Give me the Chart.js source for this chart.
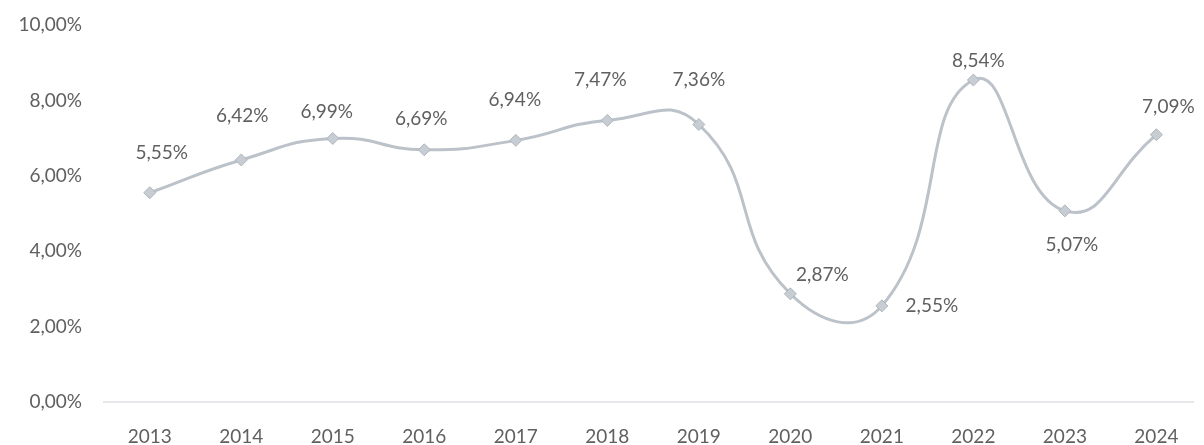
<!DOCTYPE html>
<html>
<head>
<meta charset="utf-8">
<script src="https://cdn.jsdelivr.net/npm/chart.js@4/dist/chart.umd.min.js"></script>
<style>
    html, body { margin: 0; padding: 0; background: #fff; }
    #wrap { width: 1204px; height: 445px; }
</style>
</head>
<body>
<div id="wrap"><canvas id="growth"></canvas></div>
<script>
const years = [2013, 2014, 2015, 2016, 2017, 2018, 2019, 2020, 2021, 2022, 2023, 2024];
const rates = [5.55, 6.42, 6.99, 6.69, 6.94, 7.47, 7.36, 2.87, 2.55, 8.54, 5.07, 7.09];
const yTicks = [0, 2, 4, 6, 8, 10];

// where each value label sits relative to its marker (dx, dy in px)
const labelOffsets = [
    [12, -40], [1, -44], [-6, -27], [-3, -31], [-1, -40], [-7, -41],
    [0, -45], [32, -19], [50, 0], [5, -19], [7, 34], [12, -28]
];

function pct(v) {
    return v.toFixed(2).replace('.', ',') + '%';
}

const valueLabels = {
    id: 'valueLabels',
    afterDatasetsDraw(chart) {
        const ctx = chart.ctx;
        const meta = chart.getDatasetMeta(0);
        ctx.save();
        ctx.font = '19px Lato';
        ctx.fillStyle = '#606060';
        ctx.textAlign = 'center';
        ctx.textBaseline = 'middle';
        meta.data.forEach((pt, i) => {
            const off = labelOffsets[i];
            ctx.fillText(pct(rates[i]), pt.x + off[0], pt.y + off[1]);
        });
        ctx.restore();
    }
};

const ctx = document.getElementById('growth').getContext('2d');
new Chart(ctx, {
    type: 'line',
    data: {
        datasets: [{
            data: years.map((y, i) => ({ x: y, y: rates[i] })),
            borderColor: '#bcc2c9',
            borderWidth: 3,
            tension: 0.5,
            pointStyle: 'rectRot',
            pointRadius: 6,
            pointBackgroundColor: '#c8cdd3',
            pointBorderColor: '#aeb5bd',
            pointBorderWidth: 1,
            clip: false
        }]
    },
    options: {
        responsive: true,
        maintainAspectRatio: false,
        animation: false,
        layout: { padding: { top: 25, right: 11, bottom: 0, left: 0 } },
        plugins: {
            legend: { display: false },
            tooltip: { enabled: false }
        },
        scales: {
            x: {
                type: 'linear',
                min: 2012.5,
                max: 2024.4,
                afterFit(scale) { scale.height = 43; },
                afterBuildTicks(scale) {
                    scale.ticks = years.map(v => ({ value: v }));
                },
                grid: { display: false, drawTicks: false },
                border: { display: true, color: '#e6e8eb', width: 2 },
                ticks: {
                    padding: 23,
                    color: '#606060',
                    font: { family: 'Lato', size: 19 },
                    callback: v => String(v)
                }
            },
            y: {
                min: 0,
                max: 10,
                afterFit(scale) {
                    scale.width = 104;
                    scale.paddingTop = 0;
                    scale.paddingBottom = 0;
                },
                afterBuildTicks(scale) {
                    scale.ticks = yTicks.map(v => ({ value: v }));
                },
                grid: { display: false, drawTicks: false },
                border: { display: false },
                ticks: {
                    padding: 22,
                    color: '#606060',
                    font: { family: 'Lato', size: 19 },
                    callback: v => pct(v)
                }
            }
        }
    },
    plugins: [valueLabels]
});
</script>
</body>
</html>
